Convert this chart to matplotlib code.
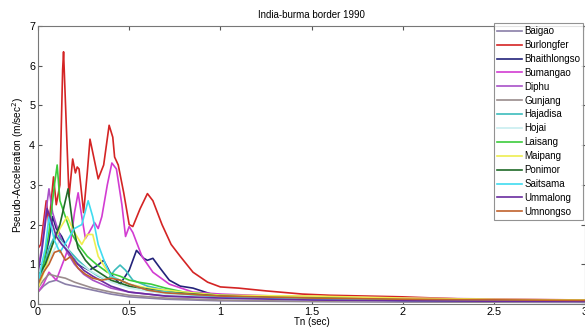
import matplotlib
matplotlib.use("Agg")
import matplotlib.pyplot as plt

plt.rcParams['font.family'] = ['Liberation Sans', 'DejaVu Sans']

title = "India-burma border 1990"
xlabel = "Tn (sec)"
ylabel = "Pseudo-Acceleration (m/sec$^2$)"
xticks = [0, 0.5, 1, 1.5, 2, 2.5, 3]
yticks = [0, 1, 2, 3, 4, 5, 6, 7]

names = ["Baigao", "Burlongfer", "Bhaithlongso", "Bumangao", "Diphu", "Gunjang",
         "Hajadisa", "Hojai", "Laisang", "Maipang", "Ponimor", "Saitsama",
         "Ummalong", "Umnongso"]
colors = ["#8a7fa8", "#d42424", "#23237a", "#d23cd2", "#a850c8", "#9a8c8c",
          "#3cbcbc", "#c8eef0", "#3ccc3c", "#eeee50", "#1f6a28", "#40dcf0",
          "#6a2ca0", "#c0622c"]

# Knot points: (period s, pseudo-acceleration m/s^2)
T_baigao = [0, 0.03, 0.06, 0.1, 0.15, 0.2, 0.25, 0.3, 0.4, 0.5, 0.7, 1.0, 1.5, 2.0, 3.0]
A_baigao = [0.3, 0.45, 0.55, 0.6, 0.5, 0.45, 0.4, 0.35, 0.25, 0.18, 0.12, 0.08, 0.06, 0.05, 0.04]

T_burl = [0, 0.015, 0.045, 0.06, 0.085, 0.1, 0.12, 0.135, 0.14, 0.155, 0.17, 0.19, 0.205,
          0.215, 0.225, 0.25, 0.27, 0.285, 0.31, 0.33, 0.36, 0.39, 0.41, 0.42, 0.44, 0.47,
          0.5, 0.52, 0.56, 0.6, 0.63, 0.68, 0.73, 0.78, 0.85, 0.93, 1.0, 1.1, 1.25, 1.45,
          1.6, 1.8, 2.0, 2.3, 2.6, 3.0]
A_burl = [1.4, 1.5, 2.6, 2.0, 3.2, 2.5, 3.0, 5.9, 6.35, 4.5, 2.7, 3.65, 3.3,
          3.45, 3.4, 2.3, 3.3, 4.15, 3.6, 3.15, 3.5, 4.5, 4.2, 3.7, 3.5, 2.8,
          2.0, 1.95, 2.4, 2.78, 2.6, 2.0, 1.5, 1.2, 0.8, 0.55, 0.43, 0.4, 0.33, 0.25,
          0.22, 0.2, 0.18, 0.13, 0.11, 0.1]

T_bhai = [0, 0.03, 0.06, 0.08, 0.1, 0.13, 0.17, 0.22, 0.28, 0.32, 0.36, 0.4, 0.45, 0.5,
          0.54, 0.58, 0.6, 0.63, 0.67, 0.72, 0.78, 0.85, 0.95, 1.1, 1.4, 2.0, 3.0]
A_bhai = [0.45, 1.0, 1.6, 2.2, 1.9, 1.7, 1.3, 1.0, 0.85, 0.95, 1.1, 0.75, 0.5, 0.85,
          1.35, 1.15, 1.1, 1.15, 0.9, 0.6, 0.45, 0.4, 0.25, 0.2, 0.15, 0.1, 0.07]

T_buma = [0, 0.03, 0.06, 0.1, 0.15, 0.18, 0.2, 0.22, 0.24, 0.26, 0.28, 0.31, 0.33, 0.35,
          0.38, 0.405, 0.43, 0.46, 0.48, 0.5, 0.52, 0.57, 0.63, 0.72, 0.85, 1.0, 1.3,
          2.0, 3.0]
A_buma = [0.3, 0.5, 0.8, 0.6, 1.2, 1.6, 2.3, 2.8, 2.2, 1.65, 1.8, 2.05, 1.9, 2.2,
          3.0, 3.55, 3.4, 2.5, 1.7, 1.95, 1.8, 1.2, 0.8, 0.5, 0.3, 0.25, 0.2,
          0.15, 0.1]

T_diphu = [0, 0.02, 0.04, 0.06, 0.08, 0.1, 0.13, 0.16, 0.2, 0.25, 0.3, 0.4, 0.5, 0.7, 1.0, 1.5, 2.0, 3.0]
A_diphu = [0.9, 1.4, 2.2, 2.9, 2.3, 2.0, 1.6, 1.3, 1.0, 0.75, 0.6, 0.4, 0.3, 0.2, 0.15, 0.1, 0.08, 0.06]

T_gunj = [0, 0.03, 0.06, 0.1, 0.15, 0.2, 0.3, 0.4, 0.5, 0.7, 1.0, 1.5, 2.0, 3.0]
A_gunj = [0.4, 0.6, 0.75, 0.7, 0.65, 0.55, 0.4, 0.3, 0.22, 0.15, 0.1, 0.07, 0.06, 0.05]

T_haja = [0, 0.03, 0.06, 0.1, 0.14, 0.18, 0.22, 0.28, 0.33, 0.38, 0.42, 0.45, 0.48, 0.52,
          0.6, 0.7, 0.85, 1.0, 1.5, 2.0, 3.0]
A_haja = [0.5, 0.9, 1.4, 1.8, 1.5, 1.3, 1.1, 0.85, 0.7, 0.6, 0.85, 0.98, 0.85, 0.6,
          0.45, 0.35, 0.25, 0.2, 0.12, 0.1, 0.07]

T_hojai = [0, 0.04, 0.08, 0.12, 0.16, 0.2, 0.3, 0.4, 0.5, 0.7, 1.0, 1.5, 2.0, 3.0]
A_hojai = [0.5, 0.9, 1.3, 1.6, 1.4, 1.1, 0.8, 0.55, 0.4, 0.25, 0.15, 0.1, 0.08, 0.06]

T_lais = [0, 0.03, 0.06, 0.09, 0.105, 0.12, 0.15, 0.18, 0.22, 0.27, 0.32, 0.38, 0.45,
          0.5, 0.55, 0.62, 0.7, 0.8, 1.0, 1.3, 2.0, 3.0]
A_lais = [0.6, 1.0, 1.8, 3.0, 3.5, 2.6, 2.2, 1.8, 1.5, 1.2, 1.0, 0.8, 0.7, 0.6, 0.55,
          0.5, 0.4, 0.3, 0.22, 0.18, 0.12, 0.09]

T_maip = [0, 0.04, 0.08, 0.12, 0.16, 0.2, 0.24, 0.27, 0.3, 0.33, 0.37, 0.4, 0.5, 0.6,
          0.8, 1.0, 1.5, 2.0, 2.5, 3.0]
A_maip = [0.4, 0.9, 1.5, 1.9, 2.2, 1.8, 1.5, 1.75, 1.75, 1.2, 0.9, 0.7, 0.5, 0.4,
          0.3, 0.22, 0.2, 0.15, 0.12, 0.1]

T_poni = [0, 0.04, 0.08, 0.12, 0.14, 0.165, 0.19, 0.22, 0.26, 0.3, 0.35, 0.4, 0.5, 0.7,
          1.0, 1.5, 2.0, 3.0]
A_poni = [0.7, 1.0, 1.5, 2.0, 2.4, 2.9, 2.0, 1.4, 1.1, 0.9, 0.75, 0.6, 0.45, 0.3,
          0.2, 0.12, 0.09, 0.07]

T_sait = [0, 0.02, 0.04, 0.06, 0.09, 0.12, 0.16, 0.2, 0.24, 0.275, 0.3, 0.33, 0.37, 0.4,
          0.5, 0.6, 0.8, 1.0, 1.5, 2.0, 3.0]
A_sait = [0.5, 1.0, 1.4, 2.2, 1.6, 1.3, 1.6, 1.9, 2.0, 2.6, 2.2, 1.5, 1.0, 0.7,
          0.5, 0.35, 0.25, 0.18, 0.12, 0.09, 0.07]

T_umma = [0, 0.02, 0.05, 0.08, 0.1, 0.13, 0.17, 0.2, 0.25, 0.3, 0.4, 0.5, 0.7, 1.0, 1.5, 2.0, 3.0]
A_umma = [0.8, 1.3, 2.4, 2.0, 1.7, 1.5, 1.3, 1.1, 0.85, 0.7, 0.45, 0.3, 0.2, 0.15, 0.1, 0.08, 0.06]

T_umno = [0, 0.03, 0.06, 0.09, 0.12, 0.15, 0.18, 0.22, 0.26, 0.3, 0.35, 0.4, 0.45, 0.5,
          0.6, 0.7, 1.0, 1.5, 2.0, 3.0]
A_umno = [0.5, 0.8, 1.0, 1.3, 1.35, 1.1, 1.2, 0.9, 0.75, 0.65, 0.6, 0.65, 0.6, 0.5,
          0.35, 0.28, 0.2, 0.15, 0.12, 0.09]

series = [(T_baigao, A_baigao), (T_burl, A_burl), (T_bhai, A_bhai), (T_buma, A_buma),
          (T_diphu, A_diphu), (T_gunj, A_gunj), (T_haja, A_haja), (T_hojai, A_hojai),
          (T_lais, A_lais), (T_maip, A_maip), (T_poni, A_poni), (T_sait, A_sait),
          (T_umma, A_umma), (T_umno, A_umno)]

fig = plt.figure(figsize=(5.85, 3.29), dpi=100)
ax = fig.add_axes([0.065, 0.076, 0.935, 0.845])

for (t, a), name, c in zip(series, names, colors):
    ax.plot(t, a, color=c, lw=1.2, label=name)

ax.set_xlim(0, 3)
ax.set_ylim(0, 7)
ax.set_xticks(xticks)
ax.set_xticklabels([f"{v:g}" for v in xticks])
ax.set_yticks(yticks)
ax.tick_params(direction='in', top=True, right=True, labelsize=7.8, length=3, pad=2,
               color='#555555')
for s in ax.spines.values():
    s.set_color('#777777')
    s.set_linewidth(0.8)
ax.set_title(title, fontsize=7, pad=6)
ax.set_xlabel(xlabel, fontsize=7, labelpad=0)
ax.set_ylabel(ylabel, fontsize=7.3, labelpad=2)

leg = ax.legend(loc='upper right', fontsize=7, frameon=True, fancybox=False,
                edgecolor='#777777', handlelength=2.5, handletextpad=0.3,
                labelspacing=0.4, borderpad=0.3, bbox_to_anchor=(0.997, 1.01),
                borderaxespad=0)
leg.get_frame().set_linewidth(0.8)

fig.savefig("out.png", dpi=100)
